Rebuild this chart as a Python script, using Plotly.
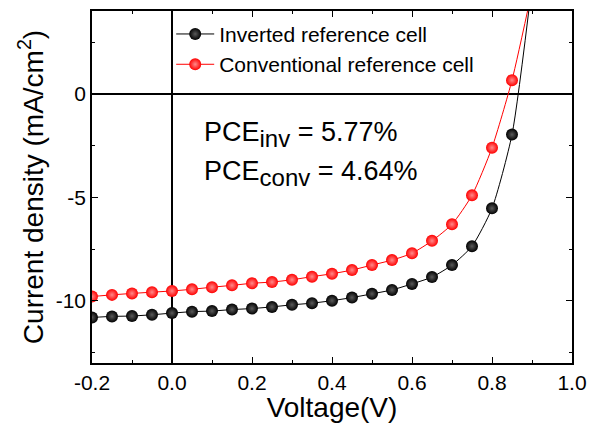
import plotly.graph_objects as go

voltage = [-0.2, -0.15, -0.1, -0.05, 0.0, 0.05, 0.1, 0.15, 0.2, 0.25, 0.3, 0.35,
           0.4, 0.45, 0.5, 0.55, 0.6, 0.65, 0.7, 0.75, 0.8, 0.85, 0.9]
j_inverted = [-10.80, -10.75, -10.73, -10.67, -10.59, -10.52, -10.49, -10.42, -10.37,
              -10.29, -10.19, -10.11, -9.99, -9.84, -9.66, -9.47, -9.18, -8.85, -8.27,
              -7.36, -5.53, -1.97, 5.3]
j_conventional = [-9.79, -9.71, -9.64, -9.58, -9.52, -9.44, -9.34, -9.25, -9.15, -9.09,
                  -8.98, -8.83, -8.69, -8.51, -8.27, -8.03, -7.70, -7.10, -6.30, -4.90,
                  -2.60, 0.66, 5.0]
names = ["Inverted reference cell", "Conventional reference cell"]

x_tick_vals = [-0.2, 0.0, 0.2, 0.4, 0.6, 0.8, 1.0]
x_tick_text = ["-0.2", "0.0", "0.2", "0.4", "0.6", "0.8", "1.0"]
y_tick_vals = [-10, -5, 0]
y_tick_text = ["-10", "-5", "0"]

pce_main = ["PCE", "PCE"]
pce_sub = ["inv", "conv"]
pce_value = [" = 5.77%", " = 4.64%"]

FONT = "Liberation Sans, Arial, sans-serif"

fig = go.Figure()
for yv, name, col, hi in [(j_inverted, names[0], "black", "#5a5a5a"),
                          (j_conventional, names[1], "#ff0000", "#ff8a8a")]:
    fig.add_trace(go.Scatter(
        x=voltage, y=yv, name=name, mode="lines+markers",
        line=dict(color=col, width=1, shape="spline", smoothing=0.6),
        marker=dict(size=12, color=col, line=dict(width=0),
                    gradient=dict(type="radial", color=hi)),
    ))

for i in range(2):
    txt = (pce_main[i] + '<sub><span style="font-size:24px">' + pce_sub[i]
           + '</span></sub>' + pce_value[i])
    fig.add_annotation(x=0.075, y=[-1.95, -3.85][i], xref="x", yref="y",
                       text=txt, showarrow=False, xanchor="left", yanchor="middle",
                       font=dict(family=FONT, size=27, color="black"))

axis_common = dict(
    showline=True, linecolor="black", linewidth=1.5, mirror="allticks",
    ticks="inside", ticklen=6, tickwidth=1.2, tickcolor="black",
    showgrid=False, zeroline=True, zerolinecolor="black", zerolinewidth=1.5,
    tickfont=dict(family=FONT, size=21, color="black"), automargin=False,
)

fig.update_xaxes(range=[-0.2, 1.0], tickvals=x_tick_vals, ticktext=x_tick_text,
                 minor=dict(dtick=0.1, ticks="inside", ticklen=3.5, tickcolor="black", tickwidth=1.2),
                 title=dict(text="Voltage(V)", font=dict(family=FONT, size=28, color="black"), standoff=0),
                 **axis_common)
fig.update_yaxes(range=[-13, 4], tickvals=y_tick_vals, ticktext=y_tick_text,
                 minor=dict(dtick=2.5, tick0=0, ticks="inside", ticklen=3.5, tickcolor="black", tickwidth=1.2),
                 title=dict(text="Current density (mA/cm<sup>2</sup>)",
                            font=dict(family=FONT, size=28, color="black"), standoff=4),
                 **axis_common)

fig.update_layout(
    width=589, height=423,
    margin=dict(l=92, r=17, t=11, b=60),
    paper_bgcolor="white", plot_bgcolor="white",
    showlegend=True,
    legend=dict(x=0.165, y=0.992, xanchor="left", yanchor="top",
                font=dict(family=FONT, size=21, color="black"),
                bgcolor="rgba(0,0,0,0)", itemwidth=38, tracegroupgap=0),
)

fig.write_html("out.html")
